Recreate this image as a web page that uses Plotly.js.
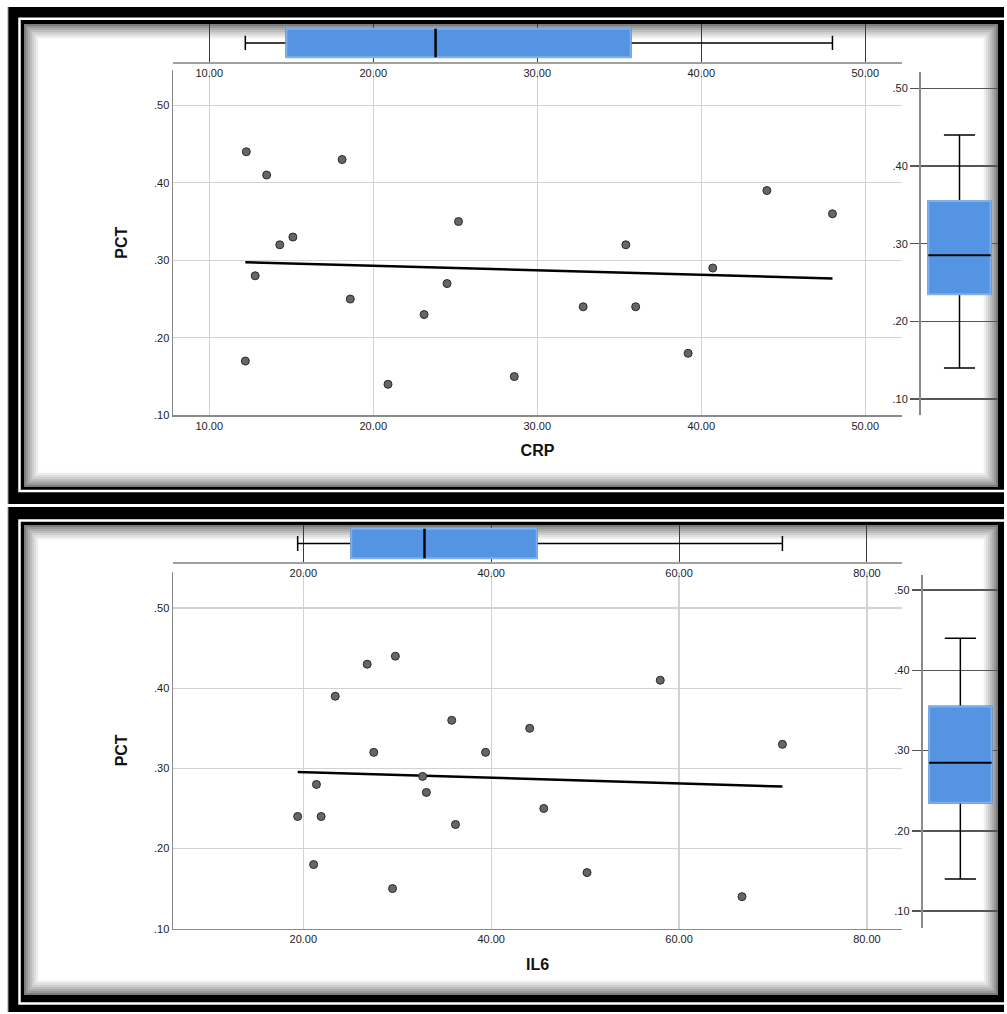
<!DOCTYPE html>
<html>
<head>
<meta charset="utf-8">
<script src="https://cdn.plot.ly/plotly-3.0.1.min.js"></script>
<style>
html,body{margin:0;padding:0;background:#fff;}
#chart{width:1007px;height:1014px;}
</style>
</head>
<body>
<div id="chart"></div>
<script>
// ---------- data ----------
const crpValues   = [12.26, 13.5, 18.1, 25.2, 14.3, 15.1, 12.8, 18.6, 24.5, 23.1, 12.2, 20.9, 28.6, 44.0, 48.0, 35.4, 40.7, 32.8, 36.0, 39.2];
const pctWithCrp  = [0.44, 0.41, 0.43, 0.35, 0.32, 0.33, 0.28, 0.25, 0.27, 0.23, 0.17, 0.14, 0.15, 0.39, 0.36, 0.32, 0.29, 0.24, 0.24, 0.18];
const il6Values   = [29.8, 26.8, 23.4, 35.8, 44.1, 27.5, 39.4, 32.7, 21.4, 33.1, 19.4, 21.9, 45.6, 36.2, 21.1, 29.5, 58.0, 71.0, 50.2, 66.7];
const pctWithIl6  = [0.44, 0.43, 0.39, 0.36, 0.35, 0.32, 0.32, 0.29, 0.28, 0.27, 0.24, 0.24, 0.25, 0.23, 0.18, 0.15, 0.41, 0.33, 0.17, 0.14];
const crpTicks = [10, 20, 30, 40, 50];
const il6Ticks = [20, 40, 60, 80];
const pctTicks = [0.1, 0.2, 0.3, 0.4, 0.5];
const xTitleTop = 'CRP';
const xTitleBottom = 'IL6';
const yTitle = 'PCT';

// ---------- helpers ----------
const W = 1007, H = 1014;
const FONT = 'Liberation Sans, Arial, sans-serif';
const px = v => v / W;
const py = v => 1 - v / H;
const pctText = v => v.toFixed(2).replace(/^0/, '');

function hinges(arr) {
  const s = [...arr].sort((a, b) => a - b);
  const med = a => { const m = a.length; return m % 2 ? a[(m - 1) / 2] : (a[m / 2 - 1] + a[m / 2]) / 2; };
  const half = Math.floor(s.length / 2);
  return { q1: med(s.slice(0, half)), med: med(s), q3: med(s.slice(s.length - half)) };
}
function fitLine(xs, ys) {
  const n = xs.length;
  const mx = xs.reduce((a, b) => a + b, 0) / n;
  const my = ys.reduce((a, b) => a + b, 0) / n;
  let sxy = 0, sxx = 0;
  for (let i = 0; i < n; i++) { sxy += (xs[i] - mx) * (ys[i] - my); sxx += (xs[i] - mx) ** 2; }
  const b = sxy / sxx, a = my - b * mx;
  const x0 = Math.min(...xs), x1 = Math.max(...xs);
  return { x: [x0, x1], y: [a + b * x0, a + b * x1] };
}
function boxTraces(values, orient, xa, ya, width, medW) {
  const s = hinges(values);
  const dataKey = orient === 'h' ? 'x' : 'y';
  const posKey = orient === 'h' ? 'y' : 'x';
  const common = { type: 'box', xaxis: xa, yaxis: ya, orientation: orient, width: width, hoverinfo: 'skip', showlegend: false };
  const A = Object.assign({}, common, { boxpoints: false, quartilemethod: 'exclusive',
    fillcolor: 'rgba(0,0,0,0)', line: { color: '#000', width: 1.5 }, whiskerwidth: 0.5 });
  A[dataKey] = values; A[posKey + '0'] = 0;
  const B = Object.assign({}, common, { q1: [s.q1], median: [s.med], q3: [s.q3], lowerfence: [s.q1], upperfence: [s.q3],
    fillcolor: '#5594e2', line: { color: '#7eb0ec', width: 2 }, whiskerwidth: 0 });
  B[posKey] = [0];
  const C = Object.assign({}, common, { q1: [s.med], median: [s.med], q3: [s.med], lowerfence: [s.med], upperfence: [s.med],
    fillcolor: 'rgba(0,0,0,0)', line: { color: '#000', width: medW }, whiskerwidth: 0 });
  C[posKey] = [0];
  return [A, B, C];
}
function scatterTraces(xs, ys, xa, ya) {
  const f = fitLine(xs, ys);
  return [
    { type: 'scatter', mode: 'lines', x: f.x, y: f.y, xaxis: xa, yaxis: ya, line: { color: '#000', width: 2.5 }, hoverinfo: 'skip' },
    { type: 'scatter', mode: 'markers', x: xs, y: ys, xaxis: xa, yaxis: ya,
      marker: { size: 8, color: '#666', line: { color: '#2a2a2a', width: 1 } }, hoverinfo: 'x+y' }
  ];
}

// ---------- frames ----------
function rect(x0, y0, x1, y1, opts) {
  return Object.assign({ type: 'rect', xref: 'paper', yref: 'paper', layer: 'below',
    x0: px(x0), x1: px(x1), y0: py(y1), y1: py(y0) }, opts);
}
function panelFrame(top, bottom, cTop, cBottom, wTop, wBottom) {
  const sh = [];
  sh.push(rect(8, top, 1004, bottom, { fillcolor: '#000', line: { width: 0 } }));
  sh.push(rect(7.5, top, 8.5, bottom, { fillcolor: '#999', line: { width: 0 } }));
  sh.push(rect(19.5, wTop, 1012, wBottom, { fillcolor: 'rgba(0,0,0,0)', line: { color: '#fff', width: 2.5 } }));
  sh.push(rect(24, cTop, 998, cBottom, { fillcolor: '#fff', line: { width: 0 } }));
  const N = 8;
  for (let i = 0; i < N; i++) {
    const c = Math.round(125 + (252 - 125) * (i / (N - 1)) ** 0.8);
    const col = 'rgb(' + c + ',' + c + ',' + c + ')';
    const d = i * 2 + 1;
    sh.push(rect(24 + d, cTop + d, 998 - d, cBottom - d, { fillcolor: 'rgba(0,0,0,0)', line: { color: col, width: 2 } }));
  }
  return sh;
}
const shapes = [].concat(
  panelFrame(7, 504, 24, 487, 18.8, 491),
  panelFrame(507, 1012, 525, 995, 520.5, 1003.5)
);

// ---------- axes ----------
const tickFont = { family: FONT, size: 11, color: '#222' };
const titleFont = { family: FONT, size: 16, color: '#111', weight: 'bold' };
function scatterX(domainPx, range, ticks, anchor, title) {
  return { domain: [px(domainPx[0]), px(domainPx[1])], range: range, anchor: anchor,
    tickvals: ticks, tickformat: '.2f', ticks: '', tickfont: tickFont,
    showgrid: true, gridcolor: '#d2d2d2', gridwidth: 1.2, zeroline: false,
    showline: true, linecolor: '#8a8a8a', linewidth: 1.5,
    title: { text: title, font: titleFont, standoff: 14 }, fixedrange: true };
}
function scatterY(domainPx, range, anchor) {
  return { domain: [py(domainPx[1]), py(domainPx[0])], range: range, anchor: anchor,
    tickvals: pctTicks, ticktext: pctTicks.map(pctText), ticks: '', tickfont: tickFont,
    showgrid: true, gridcolor: '#d2d2d2', gridwidth: 1.2, zeroline: false,
    showline: true, linecolor: '#8a8a8a', linewidth: 1.5,
    title: { text: yTitle, font: titleFont, standoff: 22 }, fixedrange: true };
}
function stripX(domainPx, range, ticks, anchor) {
  return { domain: [px(domainPx[0]), px(domainPx[1])], range: range, anchor: anchor,
    tickvals: ticks, tickformat: '.2f', ticks: '', tickfont: tickFont,
    showgrid: true, gridcolor: '#3a3a3a', gridwidth: 1, zeroline: false,
    showline: true, linecolor: '#a0a0a0', linewidth: 2, fixedrange: true };
}
function stripY(domainPx, anchor) {
  return { domain: [py(domainPx[1]), py(domainPx[0])], range: [-0.5, 0.5], anchor: anchor,
    visible: false, fixedrange: true };
}
function sideX(domainPx, anchor) {
  return { domain: [px(domainPx[0]), px(domainPx[1])], range: [-0.5, 0.5], anchor: anchor,
    visible: false, fixedrange: true };
}
function sideY(domainPx, range, anchor) {
  return { domain: [py(domainPx[1]), py(domainPx[0])], range: range, anchor: anchor,
    tickvals: pctTicks, ticktext: pctTicks.map(pctText), ticks: 'outside', ticklen: 9, tickcolor: '#555', tickwidth: 1.5,
    tickfont: tickFont, showgrid: true, gridcolor: '#555', gridwidth: 1.5, zeroline: false,
    showline: true, linecolor: '#8a8a8a', linewidth: 2, fixedrange: true };
}

const layout = {
  width: W, height: H,
  margin: { l: 0, r: 0, t: 0, b: 0 },
  paper_bgcolor: '#fff', plot_bgcolor: 'rgba(0,0,0,0)',
  showlegend: false, boxmode: 'overlay',
  font: { family: FONT, size: 11, color: '#222' },
  shapes: shapes,
  // top panel
  xaxis:  scatterX([173, 902], [7.79, 52.24], crpTicks, 'y', xTitleTop),
  yaxis:  scatterY([70, 415.3], [0.1, 0.5455], 'x'),
  xaxis2: stripX([173, 902], [7.79, 52.24], crpTicks, 'y2'),
  yaxis2: stripY([24, 62], 'x2'),
  xaxis3: sideX([921, 998], 'y3'),
  yaxis3: sideY([72, 415.3], [0.079, 0.521], 'x3'),
  // bottom panel
  xaxis4: scatterX([173, 902], [6.13, 83.73], il6Ticks, 'y4', xTitleBottom),
  yaxis4: scatterY([572, 928.7], [0.1, 0.545], 'x4'),
  xaxis5: stripX([173, 902], [6.13, 83.73], il6Ticks, 'y5'),
  yaxis5: stripY([525, 562], 'x5'),
  xaxis6: sideX([922.7, 998], 'y6'),
  yaxis6: sideY([575, 928], [0.0788, 0.519], 'x6')
};

const data = [].concat(
  scatterTraces(crpValues, pctWithCrp, 'x', 'y'),
  boxTraces(crpValues, 'h', 'x2', 'y2', 0.75, 2.5),
  boxTraces(pctWithCrp, 'v', 'x3', 'y3', 0.81, 2),
  scatterTraces(il6Values, pctWithIl6, 'x4', 'y4'),
  boxTraces(il6Values, 'h', 'x5', 'y5', 0.8, 2.5),
  boxTraces(pctWithIl6, 'v', 'x6', 'y6', 0.83, 2)
);

Plotly.newPlot('chart', data, layout, { staticPlot: true, displayModeBar: false });
</script>
</body>
</html>
